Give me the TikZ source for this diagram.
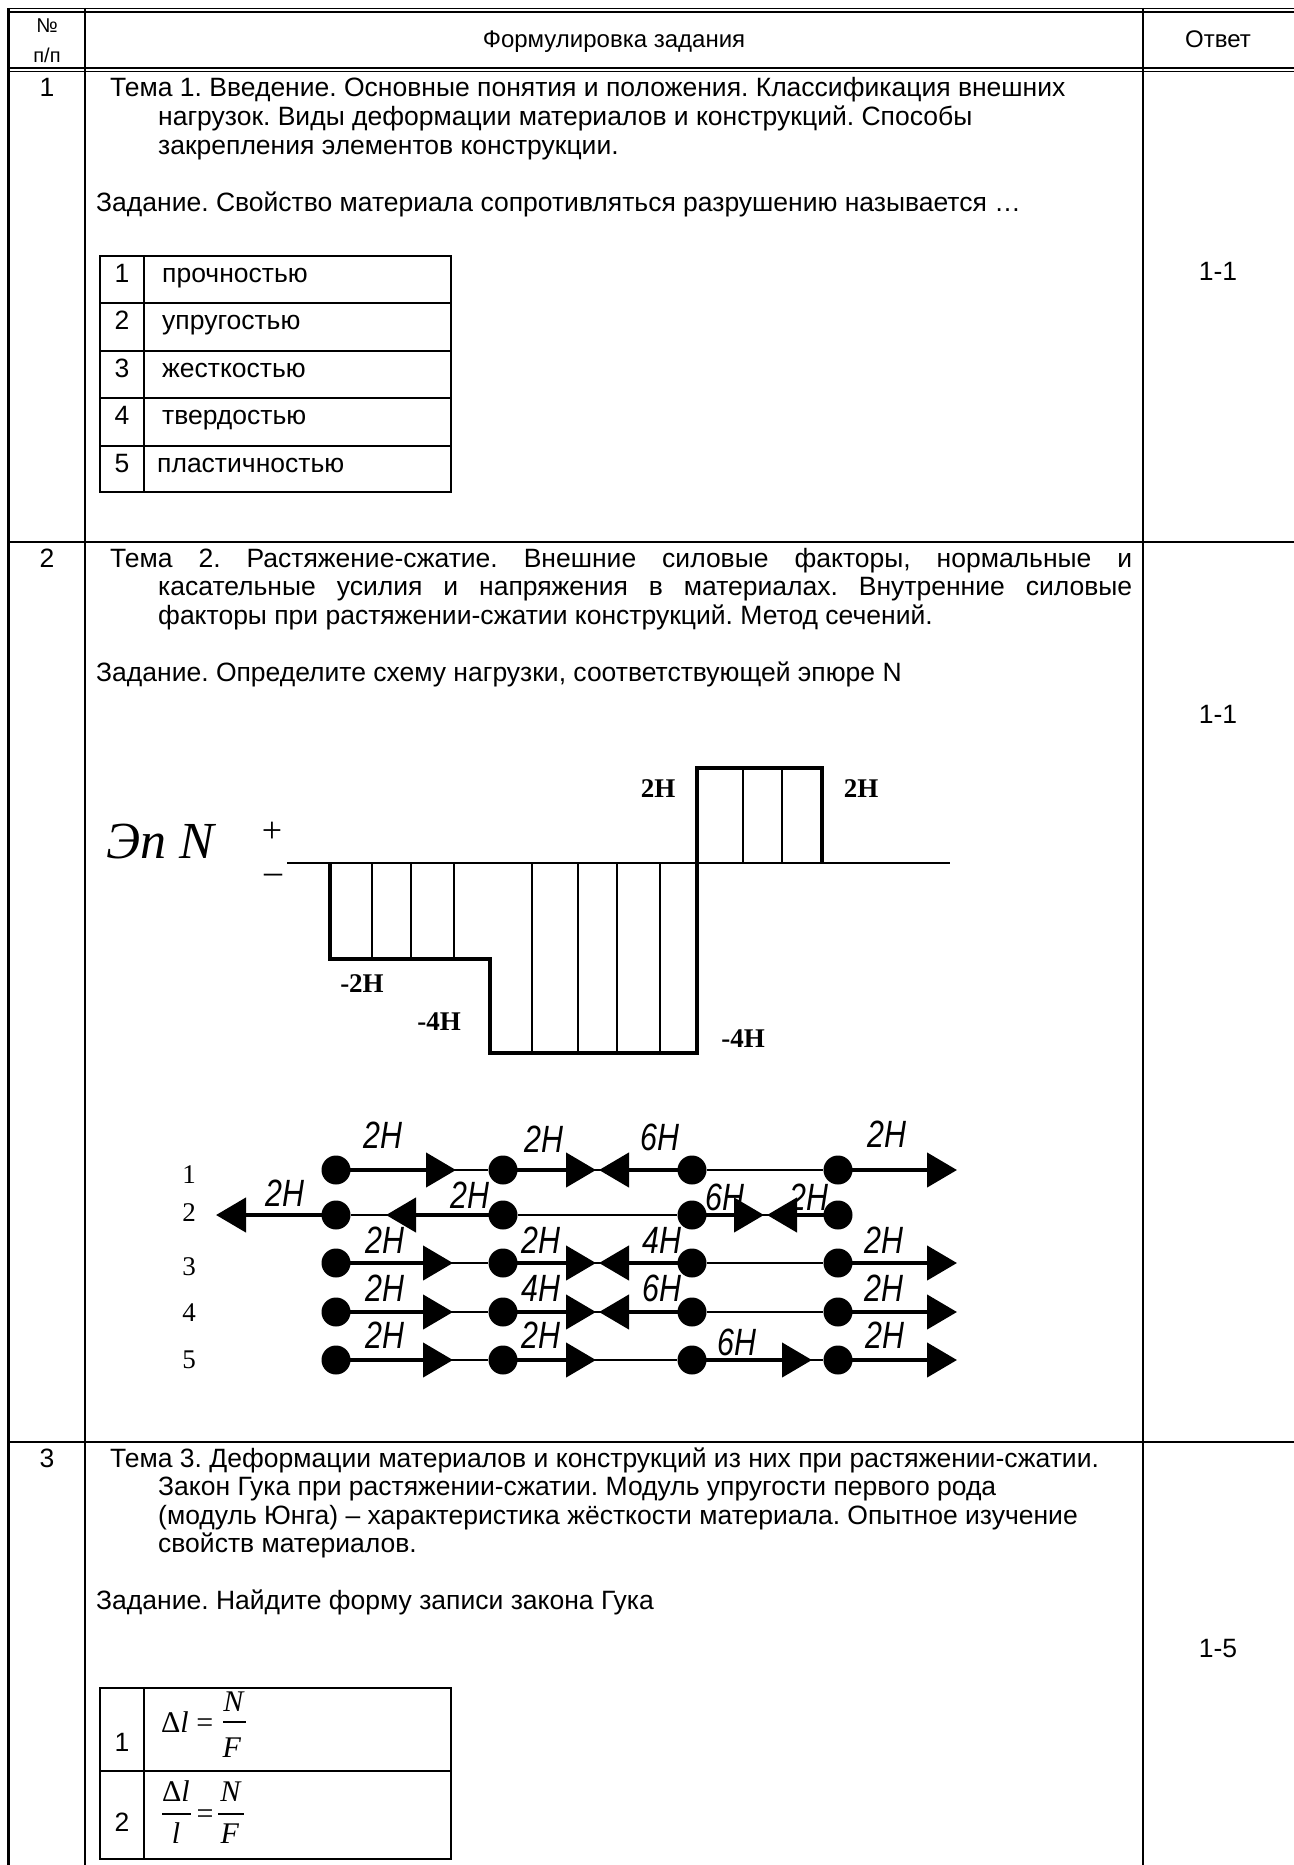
\documentclass[tikz,border=0pt]{standalone}
\usepackage{fontspec}
\setmainfont{Liberation Sans}
\newfontfamily\tms{Liberation Serif}
\usetikzlibrary{arrows.meta}
\frenchspacing
\begin{document}
\begin{tikzpicture}[x=1pt,y=-1pt,
  rule/.style={line width=2.4pt},
  dblrule/.style={line width=1.5pt},
  inner/.style={line width=2pt},
  body/.style={anchor=base west,inner sep=0pt,font=\fontsize{26.5}{29}\selectfont},
  num/.style={anchor=base,inner sep=0pt,font=\fontsize{26.5}{29}\selectfont},
  head/.style={anchor=base,inner sep=0pt,font=\fontsize{24}{26}\selectfont},
  small/.style={anchor=base,inner sep=0pt,font=\fontsize{20}{22}\selectfont},
  eplab/.style={anchor=center,inner sep=0pt,font=\tms\bfseries\fontsize{27}{27}\selectfont},
  outline/.style={line width=3.5pt,line join=miter},
  hatch/.style={line width=1.4pt},
  dot/.style={circle,fill=black,inner sep=0pt,minimum size=29pt},
  beam/.style={line width=2pt},
  force/.style={line width=4.5pt,-{Triangle[length=30pt,width=34pt]}},
  hand/.style={anchor=center,inner sep=0pt,font=\fontsize{38}{38}\selectfont\itshape},
  rowno/.style={anchor=center,inner sep=0pt,font=\tms\fontsize{27}{27}\selectfont},
  fml/.style={anchor=base,inner sep=0pt,font=\tms\fontsize{30}{30}\selectfont},
  fbar/.style={line width=1.3pt}
]
\useasboundingbox (0,0) rectangle (1293,1865);
% ---------- main table ----------
\draw[dblrule] (7.5,8.5) -- (1294,8.5);
\draw[dblrule] (7.5,12) -- (1294,12);
\draw[dblrule] (7.5,68) -- (1294,68);
\draw[dblrule] (7.5,71.5) -- (1294,71.5);
\draw[rule] (8.5,7.8) -- (8.5,1866);
\draw[rule] (85,7.8) -- (85,1866);
\draw[rule] (1143,7.8) -- (1143,1866);
\draw[rule] (7.5,542) -- (1294,542);
\draw[rule] (7.5,1442) -- (1294,1442);
% header
\node[small] (hno) at (47,33) {№};
\node[small] (hpp) at (47,63) {п/п};
\node[head] (hform) at (614,48) {Формулировка задания};
\node[head] (hans) at (1218,48) {Ответ};
% ---------- row 1 ----------
\node[num] (n1) at (47,97) {1};
\node[body] (r1a) at (110,97) {Тема 1. Введение. Основные понятия и положения. Классификация внешних};
\node[body] (r1b) at (158,125.5) {нагрузок. Виды деформации материалов и конструкций. Способы};
\node[body] (r1c) at (158,154) {закрепления элементов конструкции.};
\node[body] (r1z) at (96,211) {Задание. Свойство материала сопротивляться разрушению называется …};
\node[num] (ans1) at (1218,280) {1-1};
% small table 1
\draw[inner] (100,256) rectangle (451,492);
\draw[inner] (144,256) -- (144,492);
\foreach \yy in {303,351,398,446} {\draw[inner] (100,\yy) -- (451,\yy);}
\node[num] (o1n) at (122,282) {1};
\node[num] (o2n) at (122,329) {2};
\node[num] (o3n) at (122,377) {3};
\node[num] (o4n) at (122,424) {4};
\node[num] (o5n) at (122,472) {5};
\node[body] (o1t) at (162,282) {прочностью};
\node[body] (o2t) at (162,329) {упругостью};
\node[body] (o3t) at (162,377) {жесткостью};
\node[body] (o4t) at (162,424) {твердостью};
\node[body] (o5t) at (157,472) {пластичностью};
% ---------- row 2 ----------
\node[num] (n2) at (47,567) {2};
\node[body] (r2a) at (110,567) {\makebox[1022pt][s]{Тема 2. Растяжение-сжатие. Внешние силовые факторы, нормальные и}};
\node[body] (r2b) at (158,595.5) {\makebox[974pt][s]{касательные усилия и напряжения в материалах. Внутренние силовые}};
\node[body] (r2c) at (158,624) {факторы при растяжении-сжатии конструкций. Метод сечений.};
\node[body] (r2z) at (96,681) {Задание. Определите схему нагрузки, соответствующей эпюре N};
\node[num] (ans2) at (1218,723) {1-1};
% epure
\node[anchor=center,inner sep=0pt,font=\tms\fontsize{52}{52}\selectfont\itshape] (epn) at (160,842) {Эп N};
\node[anchor=center,inner sep=0pt,font=\tms\fontsize{36}{36}\selectfont] (eplus) at (272,832) {+};
\node[anchor=center,inner sep=0pt,font=\tms\fontsize{36}{36}\selectfont] (eminus) at (273,879) {–};
\foreach \xx in {372,411,454} {\draw[hatch] (\xx,863) -- (\xx,959);}
\foreach \xx in {532,578,617,660} {\draw[hatch] (\xx,863) -- (\xx,1053);}
\foreach \xx in {743,782} {\draw[hatch] (\xx,768) -- (\xx,863);}
\draw[line width=2.6pt] (287,863) -- (950,863);
\draw[outline] (330,863) -- (330,959) -- (490,959) -- (490,1053) -- (697,1053) -- (697,768) -- (822,768) -- (822,863);
\node[eplab] (l2a) at (658,789) {2Н};
\node[eplab] (l2b) at (861,789) {2Н};
\node[eplab] (lm2) at (362,984) {-2Н};
\node[eplab] (lm4a) at (439,1022) {-4Н};
\node[eplab] (lm4b) at (743,1039) {-4Н};
% schemes
\node[rowno] (s1) at (189,1175) {1};
\node[rowno] (s2) at (189,1213) {2};
\node[rowno] (s3) at (189,1267) {3};
\node[rowno] (s4) at (189,1313) {4};
\node[rowno] (s5) at (189,1360) {5};
\foreach \r/\yy in {1/1170,2/1215,3/1263,4/1312,5/1360} {
  \node[dot] (a\r) at (336,\yy) {};
  \node[dot] (b\r) at (503,\yy) {};
  \node[dot] (c\r) at (692,\yy) {};
  \node[dot] (d\r) at (838,\yy) {};
  \draw[beam] (a\r) -- (b\r);
  \draw[beam] (b\r) -- (c\r);
  \draw[beam] (c\r) -- (d\r);
}
% line 1
\coordinate (t1a) at (456,1170);
\coordinate (t1b) at (596,1170);
\coordinate (t1c) at (599,1170);
\coordinate (t1d) at (957,1170);
\draw[force] (a1.center) -- (t1a);
\draw[force] (b1.center) -- (t1b);
\draw[force] (c1.center) -- (t1c);
\draw[force] (d1.center) -- (t1d);
\node[hand] (h1a) at (383,1135) {\scalebox{0.8}[1]{2Н}};
\node[hand] (h1b) at (544,1139) {\scalebox{0.8}[1]{2Н}};
\node[hand] (h1c) at (660,1137) {\scalebox{0.8}[1]{6Н}};
\node[hand] (h1d) at (887,1134) {\scalebox{0.8}[1]{2Н}};
% line 2
\coordinate (t2a) at (216,1215);
\coordinate (t2b) at (386,1215);
\coordinate (t2c) at (764,1215);
\coordinate (t2d) at (767,1215);
\draw[force] (a2.center) -- (t2a);
\draw[force] (b2.center) -- (t2b);
\draw[force] (c2.center) -- (t2c);
\draw[force] (d2.center) -- (t2d);
\node[hand] (h2a) at (285,1193) {\scalebox{0.8}[1]{2Н}};
\node[hand] (h2b) at (470,1195) {\scalebox{0.8}[1]{2Н}};
\node[hand] (h2c) at (725,1197) {\scalebox{0.8}[1]{6Н}};
\node[hand] (h2d) at (809,1197) {\scalebox{0.8}[1]{2Н}};
% line 3
\coordinate (t3a) at (453,1263);
\coordinate (t3b) at (596,1263);
\coordinate (t3c) at (599,1263);
\coordinate (t3d) at (957,1263);
\draw[force] (a3.center) -- (t3a);
\draw[force] (b3.center) -- (t3b);
\draw[force] (c3.center) -- (t3c);
\draw[force] (d3.center) -- (t3d);
\node[hand] (h3a) at (385,1240) {\scalebox{0.8}[1]{2Н}};
\node[hand] (h3b) at (541,1240) {\scalebox{0.8}[1]{2Н}};
\node[hand] (h3c) at (662,1240) {\scalebox{0.8}[1]{4Н}};
\node[hand] (h3d) at (884,1240) {\scalebox{0.8}[1]{2Н}};
% line 4
\coordinate (t4a) at (453,1312);
\coordinate (t4b) at (596,1312);
\coordinate (t4c) at (599,1312);
\coordinate (t4d) at (957,1312);
\draw[force] (a4.center) -- (t4a);
\draw[force] (b4.center) -- (t4b);
\draw[force] (c4.center) -- (t4c);
\draw[force] (d4.center) -- (t4d);
\node[hand] (h4a) at (385,1288) {\scalebox{0.8}[1]{2Н}};
\node[hand] (h4b) at (541,1288) {\scalebox{0.8}[1]{4Н}};
\node[hand] (h4c) at (662,1288) {\scalebox{0.8}[1]{6Н}};
\node[hand] (h4d) at (884,1288) {\scalebox{0.8}[1]{2Н}};
% line 5
\coordinate (t5a) at (453,1360);
\coordinate (t5b) at (596,1360);
\coordinate (t5c) at (812,1360);
\coordinate (t5d) at (957,1360);
\draw[force] (a5.center) -- (t5a);
\draw[force] (b5.center) -- (t5b);
\draw[force] (c5.center) -- (t5c);
\draw[force] (d5.center) -- (t5d);
\node[hand] (h5a) at (385,1335) {\scalebox{0.8}[1]{2Н}};
\node[hand] (h5b) at (541,1335) {\scalebox{0.8}[1]{2Н}};
\node[hand] (h5c) at (737,1342) {\scalebox{0.8}[1]{6Н}};
\node[hand] (h5d) at (885,1335) {\scalebox{0.8}[1]{2Н}};
% ---------- row 3 ----------
\node[num] (n3) at (47,1467) {3};
\node[body] (r3a) at (110,1467) {Тема 3. Деформации материалов и конструкций из них при растяжении-сжатии.};
\node[body] (r3b) at (158,1495.5) {Закон Гука при растяжении-сжатии. Модуль упругости первого рода};
\node[body] (r3c) at (158,1524) {(модуль Юнга) – характеристика жёсткости материала. Опытное изучение};
\node[body] (r3d) at (158,1552.5) {свойств материалов.};
\node[body] (r3z) at (96,1609.5) {Задание. Найдите форму записи закона Гука};
\node[num] (ans3) at (1218,1657) {1-5};
% small table 2
\draw[inner] (100,1688) rectangle (451,1859);
\draw[inner] (100,1771) -- (451,1771);
\draw[inner] (144,1688) -- (144,1859);
\node[num] (f1n) at (122,1751) {1};
\node[num] (f2n) at (122,1831) {2};
% formula 1
\node[fml,anchor=base west] (f1l) at (161,1732) {Δ\textit{l} =};
\node[fml] (f1N) at (234,1711) {\textit{N}};
\draw[fbar] (223,1722) -- (246,1722);
\node[fml] (f1F) at (232,1757) {\textit{F}};
% formula 2
\node[fml] (f2dl) at (176,1801) {Δ\textit{l}};
\draw[fbar] (162,1814) -- (191,1814);
\node[fml] (f2l) at (176,1843) {\textit{l}};
\node[fml] (f2eq) at (205,1823) {=};
\node[fml] (f2N) at (231,1801) {\textit{N}};
\draw[fbar] (218,1814) -- (244,1814);
\node[fml] (f2F) at (230,1843) {\textit{F}};
\end{tikzpicture}
\end{document}
